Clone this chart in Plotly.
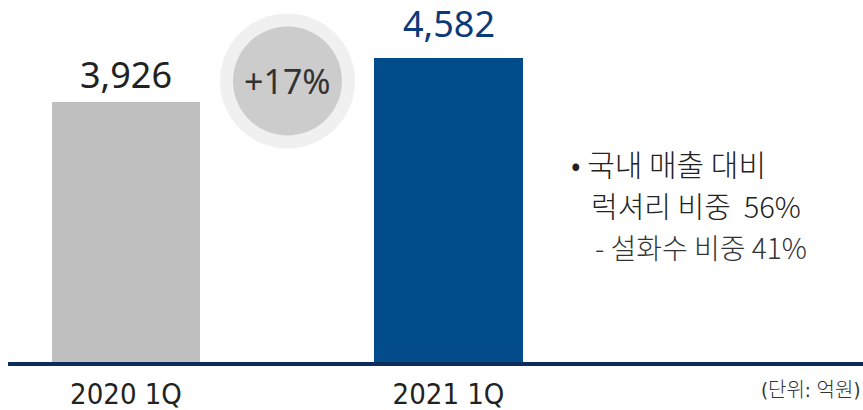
import plotly.graph_objects as go

categories = ["2020 1Q", "2021 1Q"]
values = [3926, 4582]
value_labels = ["3,926", "4,582"]
bar_colors = ["#bfbfbf", "#034c8c"]
label_colors = ["#222222", "#0b3a7a"]
growth_text = "+17%"
note_lines = ["• 국내 매출 대비", "럭셔리 비중  56%", "- 설화수 비중 41%"]
unit_text = "(단위: 억원)"

W, H = 863, 410
PLOT_H = 362  # baseline pixel

def px(x):
    return x / W

def py(y):
    return (PLOT_H - y) / PLOT_H

fig = go.Figure()
fig.add_trace(go.Bar(
    x=categories, y=values, marker=dict(color=bar_colors, line=dict(width=0)),
    width=0.459, hoverinfo="skip",
))

shapes = []
cx, cy = 287.5, 81
for r, col in [(67.5, "#f0f0f0"), (54.5, "#cccccc")]:
    shapes.append(dict(type="circle", xref="paper", yref="paper",
                       x0=px(cx - r), x1=px(cx + r), y0=py(cy + r), y1=py(cy - r),
                       fillcolor=col, line=dict(width=0), layer="below"))
shapes.append(dict(type="line", xref="paper", yref="paper",
                   x0=px(8), x1=1, y0=py(364), y1=py(364),
                   line=dict(color="#0d2c5e", width=4)))

kr = "Noto Sans CJK KR"
label_shift = [2, 9]
annotations = []
for c, v, t, col, s in zip(categories, values, value_labels, label_colors, label_shift):
    annotations.append(dict(text=t, x=c, y=v, xref="x", yref="y", showarrow=False,
                            xanchor="center", yanchor="bottom", yshift=s, borderpad=0,
                            font=dict(family="Noto Sans, Open Sans", size=36, color=col)))
annotations += [
    dict(text=growth_text, xref="paper", yref="paper", x=px(cx), y=py(cy),
         showarrow=False, font=dict(family="Noto Sans, Open Sans", size=34, color="#333333"),
         xanchor="center", yanchor="middle"),
    dict(text=note_lines[0], xref="paper", yref="paper", x=px(569), y=py(163),
         showarrow=False, font=dict(family=kr, size=30, color="#222222", weight=300),
         xanchor="left", yanchor="middle"),
    dict(text=note_lines[1], xref="paper", yref="paper", x=px(589), y=py(205),
         showarrow=False, font=dict(family=kr, size=29, color="#222222", weight=300),
         xanchor="left", yanchor="middle"),
    dict(text=note_lines[2], xref="paper", yref="paper", x=px(593), y=py(247),
         showarrow=False, font=dict(family=kr, size=28, color="#333333", weight=300),
         xanchor="left", yanchor="middle"),
    dict(text=unit_text, xref="paper", yref="paper", x=px(862), y=py(390),
         showarrow=False, font=dict(family="DejaVu Sans Condensed, " + kr, size=20, color="#333333", weight=300),
         xanchor="right", yanchor="middle"),
]

fig.update_layout(
    width=W, height=H, margin=dict(l=0, r=0, t=0, b=H - PLOT_H),
    paper_bgcolor="white", plot_bgcolor="white",
    showlegend=False, shapes=shapes, annotations=annotations,
    xaxis=dict(range=[-126 / 322.5, (W - 126) / 322.5], showgrid=False, zeroline=False,
               showline=False, ticks="", ticklabelstandoff=12,
               tickfont=dict(family="DejaVu Sans Condensed, Noto Sans", size=29, color="#222222"),
               fixedrange=True),
    yaxis=dict(range=[0, PLOT_H / (304 / 4582)], visible=False, fixedrange=True),
    bargap=0,
)

fig.write_html("out.html", config={"displayModeBar": False},
               post_script="document.body.style.margin='0';")
